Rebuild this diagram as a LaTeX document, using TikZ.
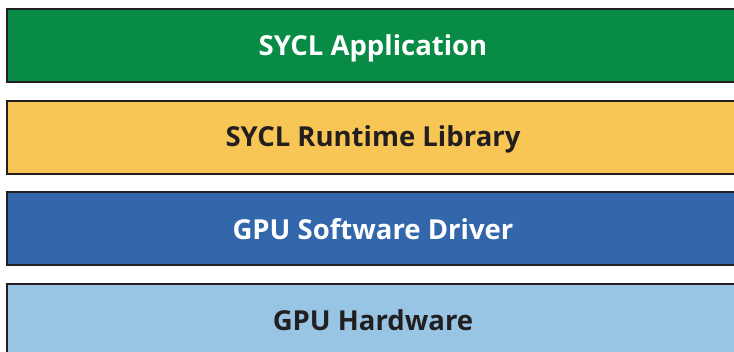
\documentclass[tikz,border=0pt]{standalone}
\usepackage{fontspec}
\setmainfont{Open Sans}
\definecolor{cgreen}{HTML}{078B45}
\definecolor{cyellow}{HTML}{F7C655}
\definecolor{cblue}{HTML}{3267AC}
\definecolor{clight}{HTML}{98C5E4}
\definecolor{cedge}{HTML}{231F20}
\definecolor{ctext}{HTML}{231F20}
\begin{document}
\begin{tikzpicture}[x=1pt,y=-1pt,
  layer/.style={draw=cedge,line width=2.4pt,minimum width=734pt,minimum height=73pt,inner sep=0pt,anchor=north west},
  lbl/.style={font=\bfseries\fontsize{27.5}{30}\selectfont,anchor=base,inner sep=0pt}]
\useasboundingbox (0,0) rectangle (734,352);
\clip (0,0) rectangle (734,352);
\node[layer,fill=cgreen] (app) at (6,8) {};
\node[layer,fill=cyellow] (rt) at (6,100) {};
\node[layer,fill=cblue] (drv) at (6,191) {};
\node[layer,fill=clight] (hw) at (6,283) {};
\node[lbl,text=white] (appt) at (373,55.5) {SYCL Application};
\node[lbl,text=ctext] (rtt) at (373,147) {SYCL Runtime Library};
\node[lbl,text=white] (drvt) at (373,240) {GPU Software Driver};
\node[lbl,text=ctext] (hwt) at (373,331) {GPU Hardware};
\end{tikzpicture}
\end{document}
